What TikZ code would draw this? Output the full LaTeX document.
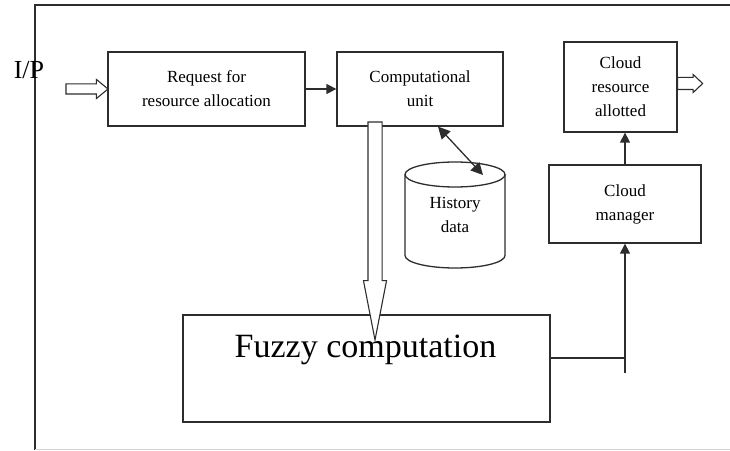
\documentclass[tikz,border=0pt]{standalone}
\usepackage{fontspec}
\setmainfont{Liberation Serif}
\usepackage{tikz}
\usetikzlibrary{shapes.arrows, arrows.meta, positioning}
\definecolor{linegray}{RGB}{45,45,45}

\begin{document}
\begin{tikzpicture}[x=1pt, y=1pt,
    box/.style={draw=linegray, line width=1.3pt, align=center, inner sep=0pt, font=\fontsize{17}{24}\selectfont},
    hollow/.style={single arrow, draw=linegray, fill=white, line width=1.1pt, inner xsep=0pt, outer sep=0pt, anchor=tail},
    link/.style={draw=linegray, line width=1.3pt},
    tip/.style={-{Triangle[length=10pt, width=10pt]}}]
    \useasboundingbox (0,0) rectangle (730,450);

    % Frame
    \draw[link] (35,0) -- (35,445) -- (730,445);
    \draw[gray!35, line width=0.8pt] (35,1) -- (730,1);
    \node[font=\fontsize{26}{28}\selectfont] (ip) at (29,380) {I/P};

    % Boxes
    \node[box, minimum width=197, minimum height=74] (req) at (206.5,361) {Request for\\resource allocation};
    \node[box, minimum width=166, minimum height=74] (comp) at (420,361) {Computational\\unit};
    \node[box, minimum width=113, minimum height=90] (alloc) at (620.5,363) {Cloud\\resource\\allotted};
    \node[box, minimum width=152, minimum height=78] (mgr) at (625,246) {Cloud\\manager};
    \node[box, minimum width=367, minimum height=107] (fuzzy) at (366.5,81.5) {};
    \node[font=\fontsize{34}{36}\selectfont, anchor=base] (fuzzylbl) at (365.5,93) {Fuzzy computation};

    % History data store
    \node[box, draw=none, outer sep=0pt, minimum width=100, minimum height=106] (hist) at (455,235) {History\\data};
    \draw[link] ([yshift=-12.5pt]hist.north west) arc[start angle=180, end angle=-180, x radius=50pt, y radius=12.5pt];
    \draw[link] ([yshift=-12.5pt]hist.north west) -- ([yshift=12.5pt]hist.south west)
        arc[start angle=180, end angle=360, x radius=50pt, y radius=12.5pt] -- ([yshift=-12.5pt]hist.north east);

    % Arrows
    \draw[link, tip] (req) -- (comp);
    \draw[link, {Triangle[length=12pt, width=12pt]}-{Triangle[length=12pt, width=12pt]}] ([xshift=18pt]comp.south) -- ([xshift=28pt, yshift=-13pt]hist.north);
    \coordinate (joint) at (mgr.south |- 0,92);
    \coordinate (stub) at (mgr.south |- 0,77);
    \draw[link] (fuzzy.east |- joint) -- (joint);
    \draw[link, tip] (stub) -- (mgr.south);
    \draw[link, tip] (mgr.north) -- (mgr.north |- alloc.south);

    % Hollow arrows
    \node[hollow, minimum height=42, inner ysep=4.5pt, single arrow head extend=4.5pt, single arrow tip angle=79] (inarrow) at (66,361) {};
    \node[hollow, minimum height=25, inner ysep=5.5pt, single arrow head extend=3pt, single arrow tip angle=87] (outarrow) at (alloc.east |- 0,366.5) {};
    \node[hollow, minimum height=218, inner ysep=6.5pt, single arrow head extend=4.5pt, single arrow tip angle=22, rotate=-90] (downarrow) at (375,328) {};
\end{tikzpicture}
\end{document}
